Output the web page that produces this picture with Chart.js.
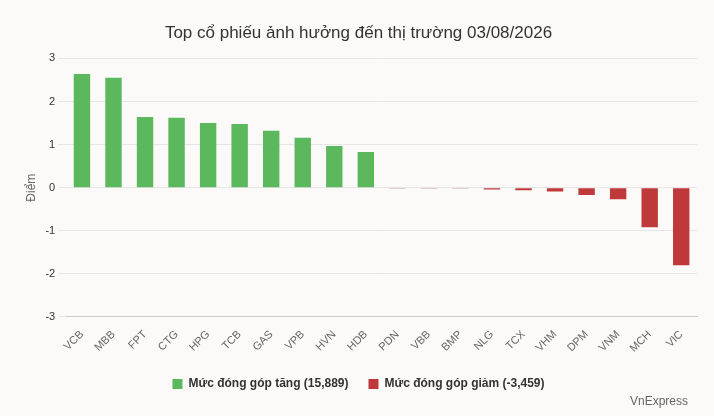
<!DOCTYPE html>
<html><head><meta charset="utf-8">
<script src="https://cdn.jsdelivr.net/npm/chart.js@4"></script>
<style>html,body{margin:0;padding:0;background:#fbfaf8;}#w{position:relative;width:714px;height:416px;}
#c{position:absolute;left:0;top:0}#cr{position:absolute;right:26px;bottom:8px;font:12px Arial,"Liberation Sans";color:#666}</style>
</head><body><div id="w"><canvas id="c" width="714" height="416"></canvas><div id="cr">VnExpress</div></div>
<script>
const categories=["VCB","MBB","FPT","CTG","HPG","TCB","GAS","VPB","HVN","HDB","PDN","VBB","BMP","NLG","TCX","VHM","DPM","VNM","MCH","VIC"];
const upValues=[2.64,2.55,1.64,1.62,1.50,1.48,1.32,1.16,0.97,0.83,null,null,null,null,null,null,null,null,null,null];
const downValues=[null,null,null,null,null,null,null,null,null,null,-0.01,-0.01,-0.02,-0.04,-0.06,-0.09,-0.17,-0.27,-0.92,-1.80];
const upLabel="Mức đóng góp tăng (15,889)";
const downLabel="Mức đóng góp giảm (-3,459)";
const font="Arial, 'Liberation Sans'";
new Chart(document.getElementById('c'),{type:'bar',
data:{labels:categories,datasets:[
{label:upLabel,data:upValues,backgroundColor:'#5cb85c',barPercentage:0.52,categoryPercentage:1,grouped:false},
{label:downLabel,data:downValues,backgroundColor:'#c0393a',barPercentage:0.52,categoryPercentage:1,grouped:false}]},
options:{responsive:false,animation:false,
layout:{padding:{left:20,right:17,top:13,bottom:16}},
plugins:{title:{display:true,text:'Top cổ phiếu ảnh hưởng đến thị trường 03/08/2026',color:'#333',font:{family:font,size:17,weight:'normal'},padding:{top:10,bottom:15}},
legend:{position:'bottom',labels:{boxWidth:10,boxHeight:10,color:'#333',font:{family:font,size:12,weight:'bold'},padding:20}},tooltip:{enabled:false}},
scales:{x:{grid:{display:false},border:{color:'#ccc'},ticks:{color:'#666',font:{family:font,size:11},maxRotation:45,minRotation:45}},
y:{min:-3,max:3,ticks:{stepSize:1,color:'#333',font:{family:font,size:11}},grid:{color:'#e6e6e6'},border:{display:false},
title:{display:true,text:'Điểm',color:'#666',font:{family:font,size:12}}}}}});
</script></body></html>
